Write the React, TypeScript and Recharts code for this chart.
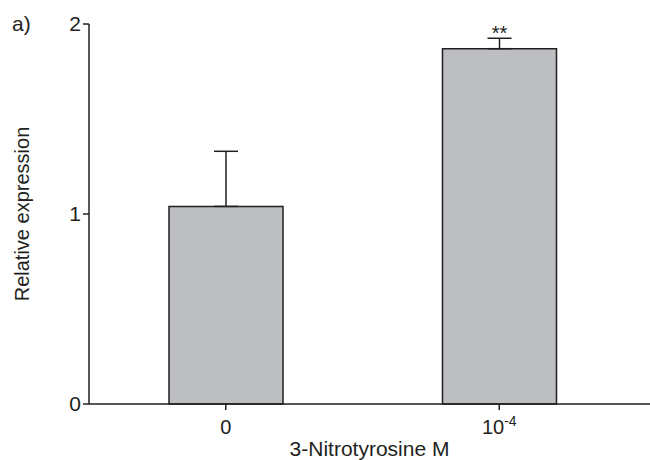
import React from 'react';
import { BarChart, Bar, XAxis, YAxis, ErrorBar, LabelList } from 'recharts';

const categories = ['0', '10-4'];
const meanValues = [1.04, 1.87];
const errUp = [0.29, 0.055];
const signif = ['', '**'];

const data = categories.map((c, i) => ({
    dose: c,
    value: meanValues[i],
    err: [0, errUp[i]],
    sig: signif[i],
}));

const FONT = "'Liberation Sans', Arial, sans-serif";
const INK = '#231f20';

// x tick: "10-4" drawn as 10 with a superscript exponent
const DoseTick = (props: any) => {
    const { x, y, payload } = props;
    const v: string = payload.value;
    const isPow = v.startsWith('10-');
    return (
        <text x={x} y={y + 22} textAnchor="middle" fontFamily={FONT} fontSize={20} fill={INK}>
            {isPow ? (
                <>
                    <tspan>10</tspan>
                    <tspan dy={-8} fontSize={14}>{v.slice(2)}</tspan>
                </>
            ) : v}
        </text>
    );
};

const YTitle = (props: any) => {
    const vb = props.viewBox || {};
    const cx = (vb.x || 0) + 22;
    const cy = (vb.y || 0) + (vb.height || 0) / 2;
    return (
        <text x={cx} y={cy} transform={`rotate(-90 ${cx} ${cy})`} textAnchor="middle" dominantBaseline="central"
            fontFamily={FONT} fontSize={20} fill={INK}>
            Relative expression
        </text>
    );
};

const App: React.FC = () => {
    return (
        <div style={{ position: 'absolute', left: 0, top: 0, width: 650, height: 460, background: '#fff' }}>
            <div style={{ position: 'absolute', left: 12, top: 12, fontFamily: FONT, fontSize: 21, color: INK, lineHeight: '24px' }}>a)</div>
            <BarChart width={650} height={460} data={data} margin={{ top: 24, right: 0, bottom: 0, left: 0 }} barSize={114}>
                <XAxis
                    dataKey="dose"
                    height={56}
                    padding={{ left: 0, right: 14 }}
                    stroke={INK}
                    strokeWidth={1.5}
                    tickSize={6}
                    tick={<DoseTick />}
                    label={{ value: '3-Nitrotyrosine M', position: 'insideBottom', offset: 4, fontFamily: FONT, fontSize: 21, fill: INK }}
                />
                <YAxis
                    width={89}
                    domain={[0, 2]}
                    ticks={[0, 1, 2]}
                    stroke={INK}
                    strokeWidth={1.5}
                    tickSize={6}
                    tick={{ fontFamily: FONT, fontSize: 21, fill: INK }}
                    label={<YTitle />}
                />
                <Bar dataKey="value" fill="#bdbec2" stroke={INK} strokeWidth={1.5} isAnimationActive={false}>
                    <ErrorBar dataKey="err" width={12} stroke={INK} strokeWidth={1.5} direction="y" />
                    <LabelList dataKey="sig" position="top" offset={9} fontFamily={FONT} fontSize={20} fill={INK} />
                </Bar>
            </BarChart>
        </div>
    );
};

export default App;
